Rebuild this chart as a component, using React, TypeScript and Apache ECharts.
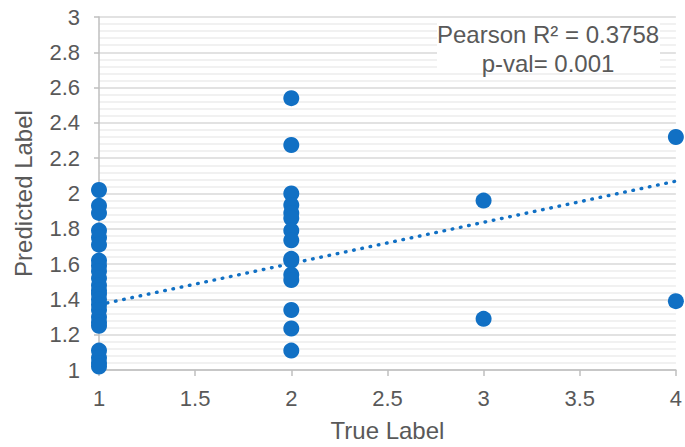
import React, { useEffect, useRef } from "react";
import * as echarts from "echarts";

const trueLabel1 = [2.02, 1.93, 1.89, 1.79, 1.75, 1.71, 1.62, 1.59, 1.56, 1.52, 1.48, 1.45, 1.43, 1.40, 1.37, 1.34, 1.30, 1.27, 1.25, 1.11, 1.07, 1.04, 1.02];
const trueLabel2 = [2.54, 2.275, 2.0, 1.935, 1.89, 1.86, 1.79, 1.735, 1.63, 1.62, 1.54, 1.51, 1.34, 1.235, 1.11];
const trueLabel3 = [1.96, 1.29];
const trueLabel4 = [2.32, 1.39];
const trendX = [1, 4];
const trendY = [1.37, 2.07];
const xTicks = [1, 1.5, 2, 2.5, 3, 3.5, 4];
const statLines = ["Pearson R\u00b2 = 0.3758", "p-val= 0.001"];

const groups: [number, number[]][] = [
  [1, trueLabel1],
  [2, trueLabel2],
  [3, trueLabel3],
  [4, trueLabel4],
];

export default function App() {
  const ref = useRef<HTMLDivElement>(null);
  useEffect(() => {
    document.body.style.margin = "0";
    if (!ref.current) return;
    const chart = echarts.init(ref.current, undefined, { renderer: "svg" });
    const points: number[][] = [];
    groups.forEach(([x, ys]) => ys.forEach((y) => points.push([x, y])));
    const font = "Liberation Sans, Arial, sans-serif";
    chart.setOption({
      animation: false,
      grid: { left: 99, right: 8, top: 17, bottom: 77 },
      xAxis: {
        type: "value",
        min: xTicks[0],
        max: xTicks[xTicks.length - 1],
        interval: 0.5,
        name: "True Label",
        nameLocation: "middle",
        nameGap: 48,
        nameTextStyle: { color: "#595959", fontSize: 24, fontFamily: font },
        axisLine: { show: true, lineStyle: { color: "#bfbfbf", width: 1.5 } },
        axisTick: { show: true, length: 6, lineStyle: { color: "#bfbfbf", width: 1.5 } },
        axisLabel: { color: "#595959", fontSize: 22, fontFamily: font, margin: 17 },
        splitLine: { show: false },
      },
      yAxis: {
        type: "value",
        min: 1,
        max: 3,
        interval: 0.2,
        name: "Predicted Label",
        nameLocation: "middle",
        nameGap: 64,
        nameTextStyle: { color: "#595959", fontSize: 24, fontFamily: font },
        axisLine: { show: true, lineStyle: { color: "#bfbfbf", width: 1.5 } },
        axisTick: { show: true, length: 5, lineStyle: { color: "#bfbfbf", width: 1.5 } },
        axisLabel: {
          color: "#595959",
          fontSize: 22,
          fontFamily: font,
          margin: 19,
          formatter: (v: number) => String(Math.round(v * 10) / 10),
        },
        splitLine: { show: true, lineStyle: { color: "#d9d9d9", width: 1.5 } },
        minorTick: { show: false, splitNumber: 5 },
        minorSplitLine: { show: true, lineStyle: { color: "#ececec", width: 1.5 } },
      },
      series: [
        {
          type: "line",
          data: trendX.map((x, i) => [x, trendY[i]]),
          showSymbol: false,
          symbol: "none",
          lineStyle: { color: "#1170c4", width: 3.4, type: [0.6, 7.8], cap: "round" },
          z: 3,
        },
        {
          type: "scatter",
          data: points,
          symbolSize: 16,
          clip: false,
          itemStyle: { color: "#1170c4", opacity: 1 },
          z: 4,
        },
      ],
      graphic: [
        {
          type: "rect",
          z: 1,
          shape: { x: 437, y: 18, width: 223, height: 51 },
          style: { fill: "#ffffff" },
        },
        {
          type: "text",
          z: 2,
          x: 548,
          y: 34,
          style: {
            text: statLines[0],
            align: "center",
            verticalAlign: "middle",
            fill: "#595959",
            font: `24px ${font}`,
          },
        },
        {
          type: "text",
          z: 2,
          x: 548,
          y: 63,
          style: {
            text: statLines[1],
            align: "center",
            verticalAlign: "middle",
            fill: "#595959",
            font: `24px ${font}`,
          },
        },
      ],
    });
    return () => chart.dispose();
  }, []);
  return <div ref={ref} style={{ width: 685, height: 447 }} />;
}
